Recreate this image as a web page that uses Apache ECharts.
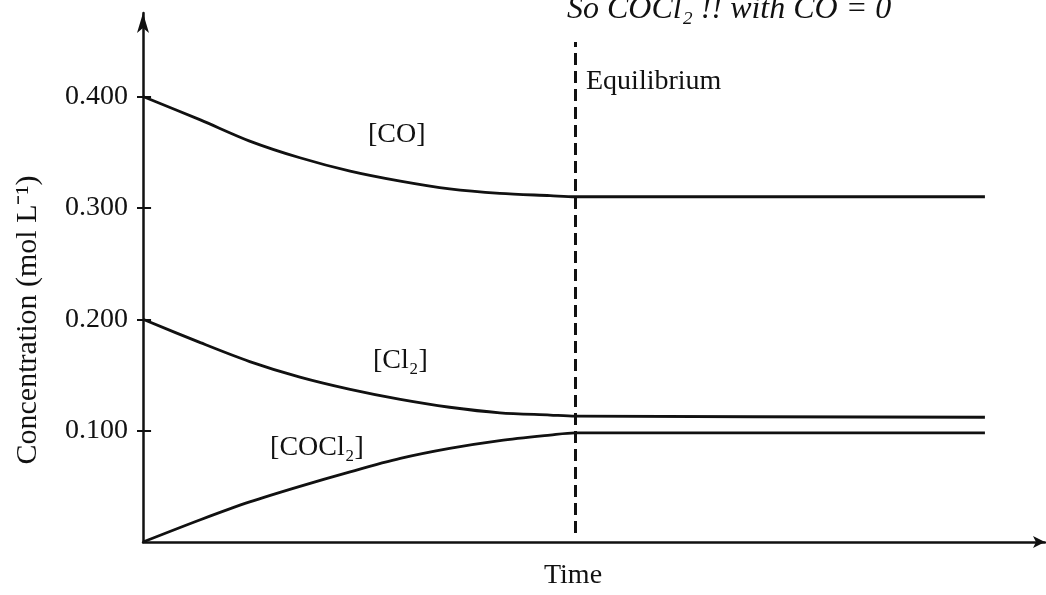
<!DOCTYPE html>
<html>
<head>
<meta charset="utf-8">
<script src="https://cdn.jsdelivr.net/npm/echarts@6/dist/echarts.min.js"></script>
<style>
html,body{margin:0;padding:0;background:#fff;}
#c{width:1046px;height:595px;}
</style>
</head>
<body>
<div id="c"></div>
<script>
// ---- data ----
const time = [0, 6.4, 11.9, 17.5, 23.1, 28.7, 34.2, 39.8, 45.4, 48.2, 93.9];
const coConc = [0.400, 0.379, 0.360, 0.345, 0.333, 0.324, 0.317, 0.313, 0.311, 0.310, 0.310];
const cl2Conc = [0.200, 0.179, 0.162, 0.148, 0.137, 0.128, 0.121, 0.116, 0.114, 0.113, 0.112];
const cocl2Conc = [0.000, 0.020, 0.036, 0.050, 0.063, 0.075, 0.084, 0.091, 0.096, 0.098, 0.098];
const yTickValues = [0.1, 0.2, 0.3, 0.4];
const yTickLabels = ['0.100', '0.200', '0.300', '0.400'];
const equilibriumTime = 48.2;
const seriesNames = ['[CO]', '[Cl₂]', '[COCl₂]'];
const equilibriumText = 'Equilibrium';
const xName = 'Time';
const yName = 'Concentration (mol L⁻¹)';
const noteText = 'So COCl₂ !! with CO = 0';

// annotation anchor points (data coordinates)
const labelAnchors = [[28.3, 0.366], [28.7, 0.163], [19.4, 0.085]];

const FONT = '"Liberation Serif", "Times New Roman", serif';
const INK = '#111';

function toPairs(xs, ys) { return xs.map((x, i) => [x, ys[i]]); }

const chart = echarts.init(document.getElementById('c'), null, {renderer: 'canvas'});

function curve(name, values, idx, extra) {
  const s = {
    name: name,
    type: 'line',
    data: toPairs(time, values),
    smooth: 0.3,
    showSymbol: false,
    symbol: 'none',
    lineStyle: {color: INK, width: 2.8},
    silent: true,
    animation: false,
    markPoint: {
      symbol: 'circle',
      symbolSize: 1,
      itemStyle: {color: 'rgba(0,0,0,0)'},
      silent: true,
      label: {
        show: true,
        position: 'inside',
        formatter: name,
        color: INK,
        fontFamily: FONT,
        fontSize: 28
      },
      data: [{coord: labelAnchors[idx]}]
    }
  };
  return Object.assign(s, extra || {});
}

const option = {
  backgroundColor: '#fff',
  animation: false,
  grid: {left: 143, right: 1, top: 13, bottom: 43, containLabel: false},
  xAxis: {
    type: 'value',
    min: 0,
    max: 100.6,
    name: xName,
    nameLocation: 'middle',
    nameGap: 20,
    nameTextStyle: {fontFamily: FONT, fontSize: 28, color: INK, padding: [0, 42, 0, 0]},
    axisLine: {show: true, symbol: ['none', 'arrow'], symbolSize: [9, 12], lineStyle: {color: INK, width: 2.5}},
    axisTick: {show: false},
    axisLabel: {show: false},
    splitLine: {show: false}
  },
  yAxis: {
    type: 'value',
    min: 0,
    max: 0.475,
    position: 'left',
    name: yName,
    nameLocation: 'middle',
    nameRotate: 90,
    nameGap: 100,
    nameTextStyle: {fontFamily: FONT, fontSize: 30, color: INK, padding: [0, 85, 0, 0]},
    axisLine: {show: true, symbol: ['none', 'arrow'], symbolSize: [9, 20], lineStyle: {color: INK, width: 2.5}},
    axisTick: {show: true, length: 6, inside: false, customValues: yTickValues, lineStyle: {color: INK, width: 2}},
    axisLabel: {
      show: true,
      customValues: yTickValues,
      margin: 15,
      fontFamily: FONT,
      fontSize: 28,
      color: INK,
      formatter: function (v) {
        const i = yTickValues.findIndex(t => Math.abs(t - v) < 1e-9);
        return i >= 0 ? yTickLabels[i] : '';
      }
    },
    splitLine: {show: false}
  },
  series: [
    curve(seriesNames[0], coConc, 0, {
      markLine: {
        silent: true,
        symbol: ['none', 'none'],
        label: {show: false},
        lineStyle: {color: INK, width: 3, type: [12, 6]},
        data: [[{coord: [equilibriumTime, 0.008]}, {coord: [equilibriumTime, 0.449]}]]
      }
    }),
    curve(seriesNames[1], cl2Conc, 1, {
      // inner half of the y-axis tick marks (ticks cross the axis line)
      markLine: {
        silent: true,
        symbol: ['none', 'none'],
        label: {show: false},
        lineStyle: {color: INK, width: 2, type: 'solid'},
        data: yTickValues.map(v => [{coord: [0, v]}, {coord: [0.9, v]}])
      }
    }),
    curve(seriesNames[2], cocl2Conc, 2)
  ],
  graphic: [
    {
      type: 'text',
      left: 586,
      top: 68,
      silent: true,
      style: {text: equilibriumText, fontFamily: FONT, fontSize: 28, fill: INK}
    },
    {
      type: 'text',
      left: 567,
      top: -6,
      silent: true,
      style: {text: noteText, fontFamily: FONT, fontStyle: 'italic', fontSize: 32, fill: INK}
    }
  ]
};

chart.setOption(option);
</script>
</body>
</html>
